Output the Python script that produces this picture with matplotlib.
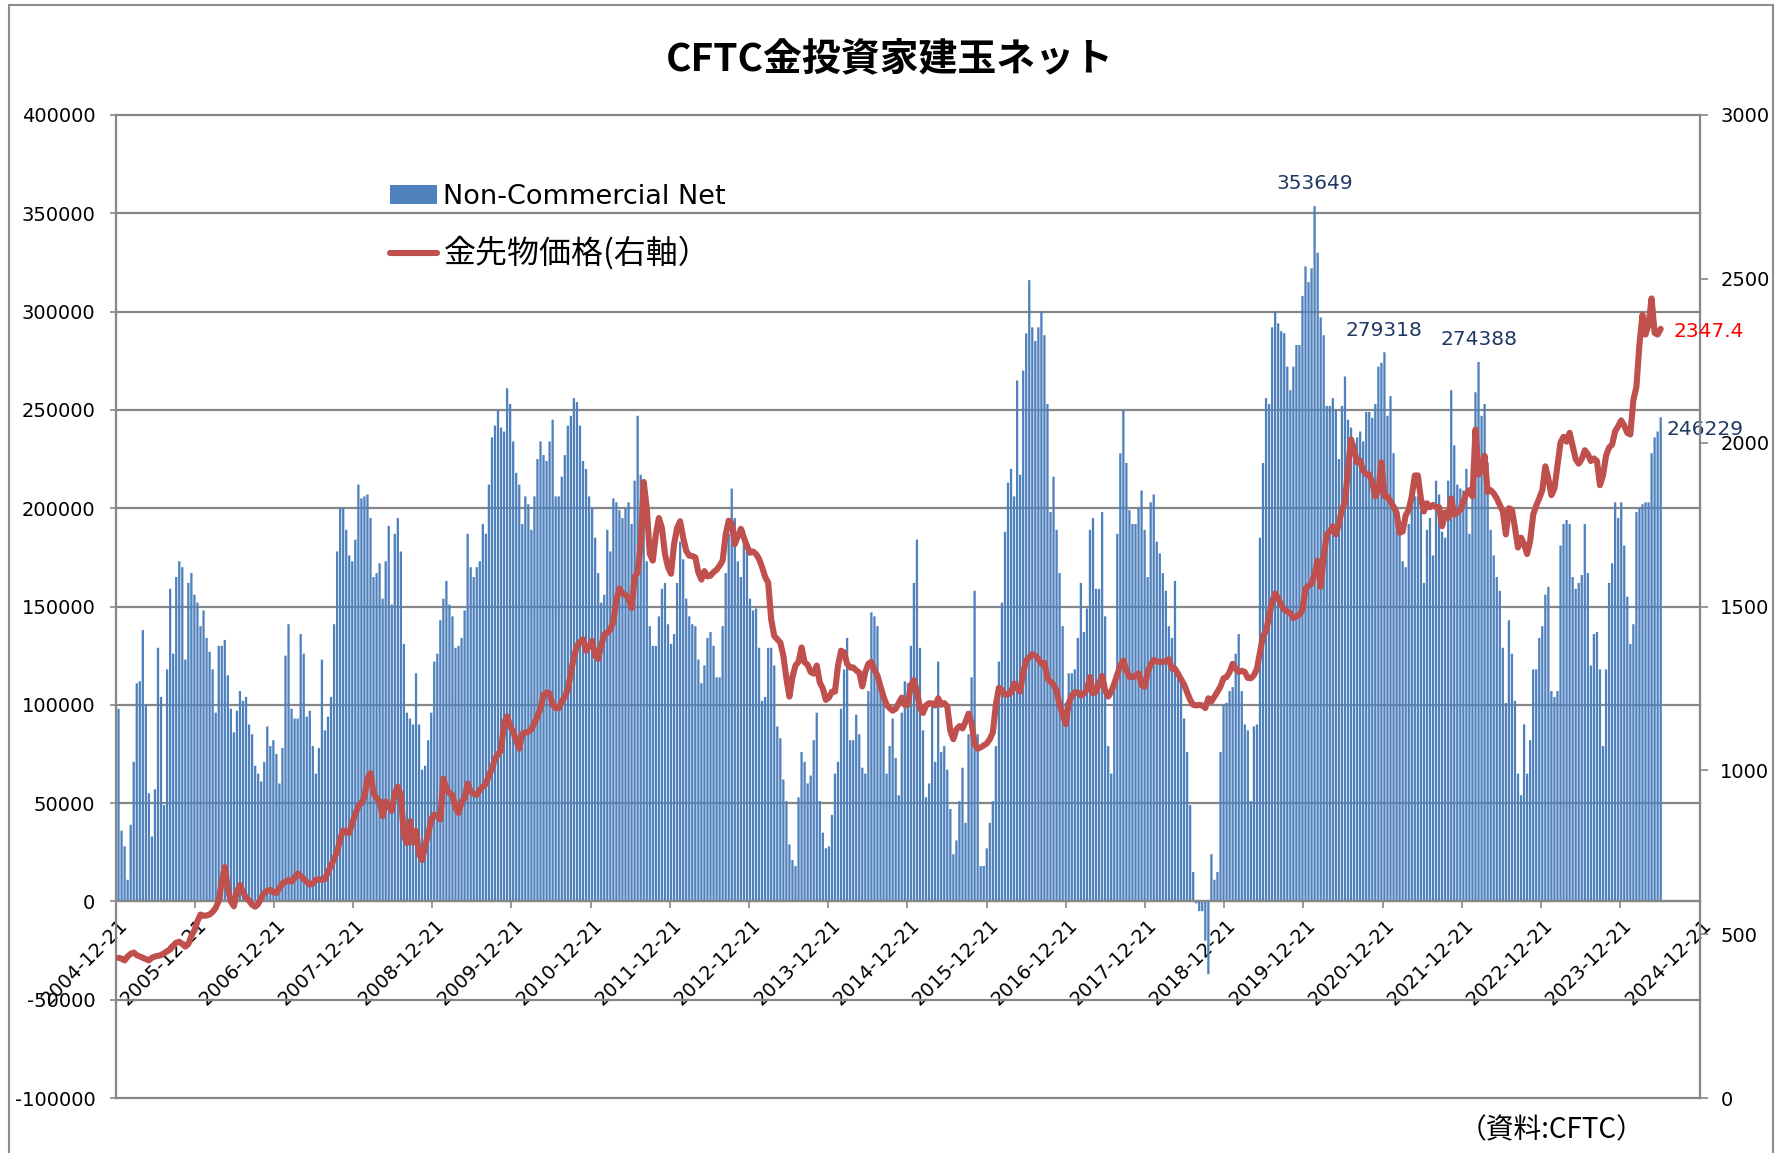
import datetime as dt
import numpy as np
import pandas as pd
import matplotlib
matplotlib.use("Agg")
import matplotlib.pyplot as plt
import matplotlib.dates as mdates
import matplotlib.transforms as mtrans
from matplotlib.patches import Rectangle

plt.rcParams['font.family'] = ['DejaVu Sans', 'Noto Sans CJK JP']
plt.rcParams['axes.unicode_minus'] = False

# CFTC gold, non-commercial net (thousand contracts), read every 2 weeks
net_k = [
    98, 36, 28, 11, 39, 71, 111, 112, 138, 100,
    55, 33, 57, 129, 104, 49, 118, 159, 126, 165,
    173, 170, 123, 162, 167, 156, 152, 140, 148, 134,
    127, 118, 96, 130, 130, 133, 115, 98, 86, 97,
    107, 102, 104, 90, 85, 69, 65, 61, 71, 89,
    79, 82, 75, 60, 78, 125, 141, 98, 93, 93,
    136, 126, 94, 97, 79, 65, 78, 123, 87, 94,
    104, 141, 178, 200, 200, 189, 176, 173, 184, 212,
    205, 206, 207, 195, 165, 167, 172,
    154, 173, 191, 151, 187, 195, 178, 131, 96, 93,
    90, 116, 90, 67, 69, 82, 96, 122, 126, 143,
    154, 163, 151, 145, 129, 130, 134, 148, 187, 170,
    165, 170, 173, 192, 187, 212, 236, 242, 250, 241,
    239, 261, 253, 234, 218, 212, 192, 206, 202, 189,
    206, 225, 234, 227, 224, 234, 245, 206, 206, 216,
    227, 242, 247, 256, 254, 242, 224, 220, 206, 200,
    185, 167, 152, 156, 189, 178, 205, 203, 199, 195,
    200, 203, 192, 214, 247, 217, 212,
    173, 140, 130, 130, 145, 159, 162, 141, 131, 136,
    162, 183, 174, 154, 145, 141, 140, 123, 111, 120,
    134, 137, 130, 114, 114, 140, 167, 187, 210, 195,
    173, 165, 189, 178, 154, 148, 149, 129, 102, 104,
    129, 129, 120, 89, 83, 62, 51, 29, 21, 18,
    53, 76, 71, 60, 64, 82, 96, 51, 35, 27,
    28, 44, 65, 71, 98, 118, 134, 82, 82, 95,
    85, 68, 65, 107, 147, 145, 140, 109, 104, 65,
    79, 93, 73, 54, 96, 112,
    111, 130, 162, 184, 129, 87, 53, 60, 102, 71,
    122, 76, 79, 67, 47, 24, 31, 51, 68, 40,
    85, 114, 158, 85, 18, 18, 27, 40, 51, 79,
    122, 152, 188, 213, 220, 206, 265, 217, 270, 289,
    316, 292, 285, 292, 300, 288, 253, 198, 216, 189,
    167, 140, 101, 116, 116, 118, 134, 162, 137, 149,
    189, 195, 159, 159, 198, 145, 79, 65, 112, 187,
    228, 250, 223, 199, 192, 192, 200, 209, 189, 165,
    203, 207, 183, 177, 167, 158, 140, 134,
    163, 114, 111, 93, 76, 49, 15, -1, -5, -5,
    -20, -37, 24, 11, 15, 76, 100, 101, 107, 109,
    126, 136, 107, 90, 87, 51, 89, 90, 185, 223,
    256, 253, 292, 300, 294, 290, 289, 272, 260, 272,
    283, 283, 308, 323, 315, 322, 353.649, 330, 297, 288,
    252, 252, 256, 250, 225, 252, 267, 245, 241, 225,
    236, 239, 234, 249, 249, 246, 253, 272, 274, 279.318,
    247, 257, 228, 200, 187, 173, 170, 192, 203, 206,
    206, 199, 162, 189, 195, 176, 214,
    207, 188, 185, 214, 260, 232, 212, 210, 209, 220,
    187, 220, 259, 274.388, 247, 253, 223, 189, 176, 165,
    158, 129, 101, 143, 126, 102, 65, 54, 90, 65,
    82, 118, 118, 134, 140, 156, 160, 107, 104, 107,
    181, 192, 194, 192, 165, 159, 162, 166, 192, 167,
    120, 136, 137, 118, 79, 118, 162, 172, 203, 195,
    203, 181, 155, 131, 141, 198, 200, 202, 203, 203,
    228, 236, 239, 246.229,
]

# gold futures price (USD), same dates
gold = [
    428, 425, 420, 432, 440, 444, 436, 432, 428, 424,
    420, 428, 432, 434, 436, 442, 448, 453, 465, 474,
    477, 470, 462, 470, 495, 512, 540, 560, 556, 557,
    560, 568, 580, 602, 660, 705, 640, 600, 585, 630,
    650, 628, 612, 602, 590, 584, 592, 610, 626, 632,
    635, 628, 626, 640, 655, 660, 665, 660, 672, 685,
    678, 668, 660, 651, 655, 666, 668, 666, 668, 690,
    709, 730, 751, 790, 817, 812, 809, 840, 867, 890,
    900, 920, 975, 991, 930, 915, 905,
    860, 905, 892, 876, 930, 950, 925, 800, 778, 845,
    780, 815, 745, 726, 770, 805, 850, 865, 860, 850,
    975, 945, 930, 925, 885, 870, 905, 915, 960, 935,
    928, 925, 940, 950, 958, 985, 1005, 1035, 1050, 1060,
    1145, 1165, 1135, 1118, 1090, 1066, 1112, 1115, 1118, 1125,
    1145, 1165, 1190, 1230, 1238, 1235, 1200, 1190, 1190, 1210,
    1225, 1245, 1300, 1345, 1380, 1392, 1400, 1365, 1380, 1395,
    1350, 1340, 1380, 1414, 1420, 1430, 1455, 1520, 1555, 1540,
    1535, 1525, 1495, 1590, 1604, 1690, 1880,
    1800, 1660, 1640, 1720, 1770, 1740, 1660, 1620, 1600, 1690,
    1740, 1760, 1710, 1670, 1655, 1654, 1650, 1604, 1582, 1608,
    1592, 1594, 1605, 1612, 1625, 1640, 1720, 1762, 1754, 1690,
    1715, 1737, 1710, 1685, 1664, 1668, 1660, 1645, 1620, 1590,
    1573, 1460, 1410, 1400, 1390, 1350, 1280, 1225, 1285, 1320,
    1331, 1375, 1330, 1322, 1300, 1295, 1320, 1268, 1250, 1215,
    1222, 1240, 1240, 1320, 1365, 1360, 1325, 1314, 1314, 1305,
    1298, 1256, 1300, 1325, 1331, 1306, 1289, 1256, 1225, 1200,
    1190, 1182, 1188, 1205, 1222, 1200,
    1200, 1260, 1275, 1240, 1190, 1175, 1198, 1205, 1204, 1198,
    1220, 1200, 1205, 1195, 1120, 1095, 1125, 1135, 1128, 1148,
    1173, 1145, 1080, 1066, 1070, 1076, 1082, 1095, 1115, 1200,
    1252, 1245, 1231, 1232, 1238, 1265, 1250, 1240, 1300, 1335,
    1345, 1355, 1350, 1340, 1325, 1328, 1280, 1270, 1262, 1242,
    1200, 1170, 1141, 1205, 1228, 1238, 1238, 1228, 1235, 1246,
    1285, 1235, 1240, 1265, 1288, 1245, 1225, 1240, 1265, 1292,
    1320, 1335, 1306, 1285, 1284, 1289, 1296, 1260, 1255, 1300,
    1322, 1337, 1332, 1331, 1331, 1333, 1339, 1310,
    1310, 1295, 1278, 1262, 1238, 1215, 1200, 1198, 1200, 1198,
    1190, 1220, 1210, 1225, 1240, 1256, 1281, 1285, 1300, 1325,
    1310, 1300, 1304, 1300, 1282, 1281, 1290, 1310, 1360, 1410,
    1425, 1470, 1515, 1540, 1525, 1505, 1490, 1485, 1480, 1465,
    1470, 1475, 1490, 1555, 1563, 1570, 1600, 1640, 1560, 1654,
    1720, 1729, 1745, 1720, 1754, 1795, 1818, 1920, 2010, 1980,
    1940, 1945, 1915, 1903, 1903, 1878, 1836, 1853, 1940, 1836,
    1836, 1820, 1805, 1787, 1725, 1729, 1778, 1795, 1836, 1900,
    1900, 1830, 1790, 1815, 1803, 1810, 1803,
    1803, 1745, 1787, 1770, 1830, 1780, 1787, 1795, 1820, 1845,
    1855, 1836, 2040, 1903, 1919, 1960, 1850, 1855, 1845, 1830,
    1810, 1790, 1720, 1800, 1795, 1740, 1680, 1710, 1690, 1660,
    1700, 1780, 1808, 1830, 1855, 1928, 1890, 1840, 1860, 1930,
    2000, 2018, 2003, 2030, 1990, 1950, 1936, 1950, 1977, 1965,
    1944, 1952, 1944, 1870, 1900, 1960, 1985, 1994, 2035, 2050,
    2068, 2052, 2030, 2025, 2130, 2170, 2300, 2390, 2330, 2360,
    2440, 2335, 2330, 2347.4,
]

net_labels = [353.649, 279.318, 274.388]   # labelled peaks
last_net = net_k[-1]
last_gold = gold[-1]

dates = pd.date_range('2005-01-04', periods=len(net_k), freq='14D')
x = mdates.date2num(dates.to_pydatetime())
net = np.array(net_k) * 1000

GRID = '#878787'
W, H = 1786, 1153

fig = plt.figure(figsize=(W / 100, H / 100), dpi=100)
ax = fig.add_axes([115.5 / W, 1 - 1098 / H, 1584 / W, 983 / H])
ax2 = ax.twinx()

bars = ax.bar(x, net, width=10.5, color='#4F81BD', zorder=2, linewidth=0,
              snap=False)
line, = ax2.plot(x, gold, color='#C0504D', lw=4.4, solid_joinstyle='round',
                 solid_capstyle='round')

# axes / scales
ax.set_ylim(-100000, 400000)
ax.set_yticks(range(-100000, 400001, 50000))
ax2.set_ylim(0, 3000)
ax2.set_yticks(range(0, 3001, 500))
ax.set_xlim(mdates.date2num(dt.datetime(2004, 12, 21)),
            mdates.date2num(dt.datetime(2024, 12, 21)))
ax.set_xticks([mdates.date2num(dt.datetime(y, 12, 21)) for y in range(2004, 2025)])
ax.xaxis.set_major_formatter(mdates.DateFormatter('%Y-%m-%d'))

ax.yaxis.grid(True, color=GRID, lw=1.6)
ax.set_axisbelow(True)
for gl in ax.get_ygridlines():
    gl.set_clip_on(False)

for s in ['top', 'right']:
    ax.spines[s].set_visible(False)
ax.spines['left'].set_color(GRID)
ax.spines['left'].set_linewidth(1.6)
ax.spines['bottom'].set_position(('data', 0))
ax.spines['bottom'].set_color(GRID)
ax.spines['bottom'].set_linewidth(1.6)
for s in ['top', 'left', 'bottom']:
    ax2.spines[s].set_visible(False)
ax2.spines['right'].set_color(GRID)
ax2.spines['right'].set_linewidth(1.6)

ax.tick_params(axis='y', direction='out', length=4.5, width=1.2, color=GRID,
               labelsize=14, pad=10)
ax.tick_params(axis='x', direction='out', length=5, width=1.2, color=GRID,
               labelsize=14, pad=10, labelrotation=45)
ax2.tick_params(axis='y', direction='out', length=6, width=1.2, color=GRID,
                labelsize=14, pad=9)

shift = mtrans.ScaledTranslation(9 / 100, 0, fig.dpi_scale_trans)
for lbl in ax.get_xticklabels():
    lbl.set_ha('right')
    lbl.set_va('center')
    lbl.set_rotation_mode('anchor')
    lbl.set_transform(lbl.get_transform() + shift)

# data labels
for v in net_labels:
    i = net_k.index(v)
    ax.annotate(f'{round(v * 1000)}', xy=(x[i], v * 1000), xytext=(0, 16),
                textcoords='offset points', ha='center', va='center',
                fontsize=14.5, color='#1F3864')
ax.annotate(f'{round(last_net * 1000)}', xy=(x[-1], last_net * 1000),
            xytext=(4.5, -8.5), textcoords='offset points', ha='left',
            va='center', fontsize=14.5, color='#1F3864')
ax2.annotate(f'{last_gold}', xy=(x[-1], last_gold), xytext=(9, -2),
             textcoords='offset points', ha='left', va='center',
             fontsize=14.5, color='#FF0000')

# legend
leg = ax2.legend([bars, line], ['Non-Commercial Net', '金先物価格(右軸）'],
                 loc='upper left', bbox_to_anchor=(390 / W, 1 - 184 / H),
                 bbox_transform=fig.transFigure, frameon=False, borderpad=0,
                 borderaxespad=0, handlelength=1.74, handleheight=0.7,
                 handletextpad=0.23, labelspacing=0.95, prop={'size': 19.5})
txts = leg.get_texts()
txts[1].set_fontfamily(['Noto Sans CJK JP', 'DejaVu Sans'])
txts[1].set_fontsize(23)

fig.text(890 / W, 1 - 59 / H, 'CFTC金投資家建玉ネット', ha='center', va='center',
         fontsize=28, fontweight='bold', family=['Noto Sans CJK JP', 'DejaVu Sans'])
fig.text(1552 / W, 1 - 1130 / H, '（資料:CFTC）', ha='center', va='center',
         fontsize=20, family=['Noto Sans CJK JP', 'DejaVu Sans'])

fig.add_artist(Rectangle((8.6 / W, -0.05), (1773 - 8.6) / W, 0.05 + 1 - 5 / H,
                         transform=fig.transFigure, fill=False,
                         edgecolor='#8c8c8c', lw=1.5))

fig.savefig('out.png', dpi=100)
